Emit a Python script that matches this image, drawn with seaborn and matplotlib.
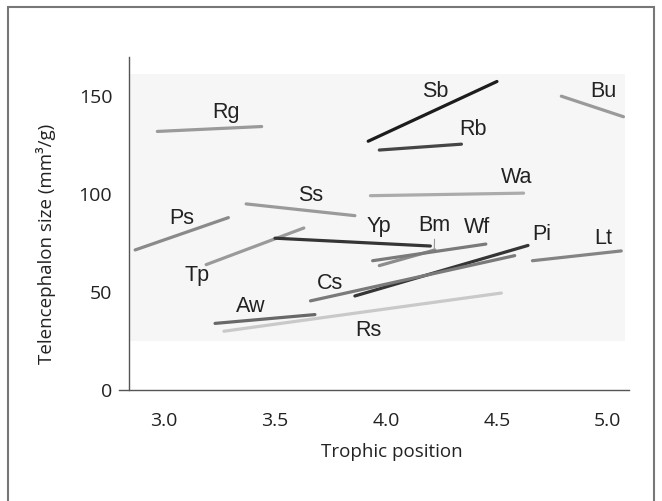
import pandas as pd
import numpy as np
import matplotlib
matplotlib.use("Agg")
import matplotlib.pyplot as plt
import seaborn as sns
from matplotlib.patches import Rectangle

# species segments: trophic position (start/end) and telencephalon size (start/end)
species = ["Rg", "Sb", "Rb", "Bu", "Wa", "Ss", "Ps", "Tp",
           "Yp", "Bm", "Wf", "Pi", "Cs", "Lt", "Aw", "Rs"]
tp_start = [2.97, 3.92, 3.97, 4.79, 3.93, 3.37, 2.87, 3.19,
            3.50, 3.97, 3.94, 3.86, 3.66, 4.66, 3.23, 3.27]
tp_end = [3.44, 4.50, 4.34, 5.07, 4.62, 3.86, 3.29, 3.63,
          4.20, 4.22, 4.45, 4.64, 4.58, 5.06, 3.68, 4.52]
tel_start = [132.0, 127.0, 122.5, 150.0, 99.2, 95.0, 71.5, 64.0,
             77.5, 63.5, 66.0, 48.0, 45.5, 66.0, 34.0, 30.0]
tel_end = [134.5, 157.5, 125.5, 139.5, 100.5, 89.0, 88.0, 82.7,
           73.5, 71.5, 74.5, 73.8, 68.6, 71.0, 38.5, 49.5]
line_colors = ["#9a9a9a", "#1c1c1c", "#454545", "#9a9a9a", "#ababab", "#9a9a9a",
               "#8a8a8a", "#9a9a9a", "#353535", "#8c8c8c", "#7a7a7a", "#353535",
               "#7a7a7a", "#848484", "#686868", "#c9c9c9"]

# label positions for each species
label_x = [3.28, 4.22, 4.39, 4.98, 4.59, 3.66, 3.08, 3.15,
           3.97, 4.22, 4.41, 4.70, 3.75, 4.98, 3.39, 3.92]
label_y = [141.5, 152.5, 133.0, 152.5, 108.5, 99.5, 87.5, 58.5,
           83.5, 84.0, 83.0, 79.5, 54.5, 77.5, 42.5, 30.5]

x_ticks = [3.0, 3.5, 4.0, 4.5, 5.0]
y_ticks = [0, 50, 100, 150]

# long-form table for seaborn
rows = []
for i, sp in enumerate(species):
    rows.append({"species": sp, "tp": tp_start[i], "tel": tel_start[i]})
    rows.append({"species": sp, "tp": tp_end[i], "tel": tel_end[i]})
df = pd.DataFrame(rows)
palette = dict(zip(species, line_colors))

sns.set_style("white")
plt.rcParams["font.family"] = ["Open Sans", "DejaVu Sans"]

fig = plt.figure(figsize=(6.62, 5.01), dpi=100)
ax = fig.add_axes([118.5 / 662, 111 / 501, 510.5 / 662, 333 / 501])

# light grey panel behind the lines
ax.add_patch(Rectangle((2.842, 25), 5.076 - 2.842, 161.5 - 25,
                       facecolor="#f6f6f6", edgecolor="none", zorder=0))

sns.lineplot(data=df, x="tp", y="tel", hue="species", units="species",
             estimator=None, sort=False, palette=palette, linewidth=2.3,
             legend=False, ax=ax, zorder=2)

for i, sp in enumerate(species):
    if sp == "Bm":
        ax.annotate(sp, xy=(4.218, 72), xytext=(label_x[i], label_y[i]),
                    ha="center", va="center", fontsize=15.5,
                    family="Liberation Sans", color="#222222",
                    arrowprops=dict(arrowstyle="-", color="#999999", lw=0.8,
                                    shrinkA=9, shrinkB=0))
    else:
        ax.text(label_x[i], label_y[i], sp, ha="center", va="center",
                fontsize=15.5, family="Liberation Sans", color="#222222")

ax.set_xlim(2.795, 5.095)
ax.set_ylim(0, 170)
ax.set_xticks(x_ticks)
ax.set_xticklabels([f"{v:.1f}" for v in x_ticks])
ax.set_yticks(y_ticks)

for s in ["top", "right"]:
    ax.spines[s].set_visible(False)
ax.spines["left"].set_position(("data", 2.842))
for s in ["left", "bottom"]:
    ax.spines[s].set_color("#555555")
    ax.spines[s].set_linewidth(1.0)

ax.tick_params(axis="both", direction="out", length=6, width=1.0,
               color="#555555", labelsize=14, labelcolor="#222222")
ax.tick_params(axis="x", pad=10)
ax.tick_params(axis="y", pad=6)

ax.set_xlabel("Trophic position", fontsize=13.5, color="#222222", labelpad=8)
ax.xaxis.set_label_coords(0.536, -0.16)
ax.set_ylabel("Telencephalon size (mm³/g)", fontsize=13.5, color="#222222")
ax.yaxis.set_label_coords(-0.122, 0.438)

# outer frame of the figure
fig.add_artist(Rectangle((7.5 / 662, -0.05), (654 - 7.5) / 662, 1.05 - 7 / 501,
                         transform=fig.transFigure, fill=False,
                         edgecolor="#777777", linewidth=1.5))

fig.savefig("out.png", dpi=100)
